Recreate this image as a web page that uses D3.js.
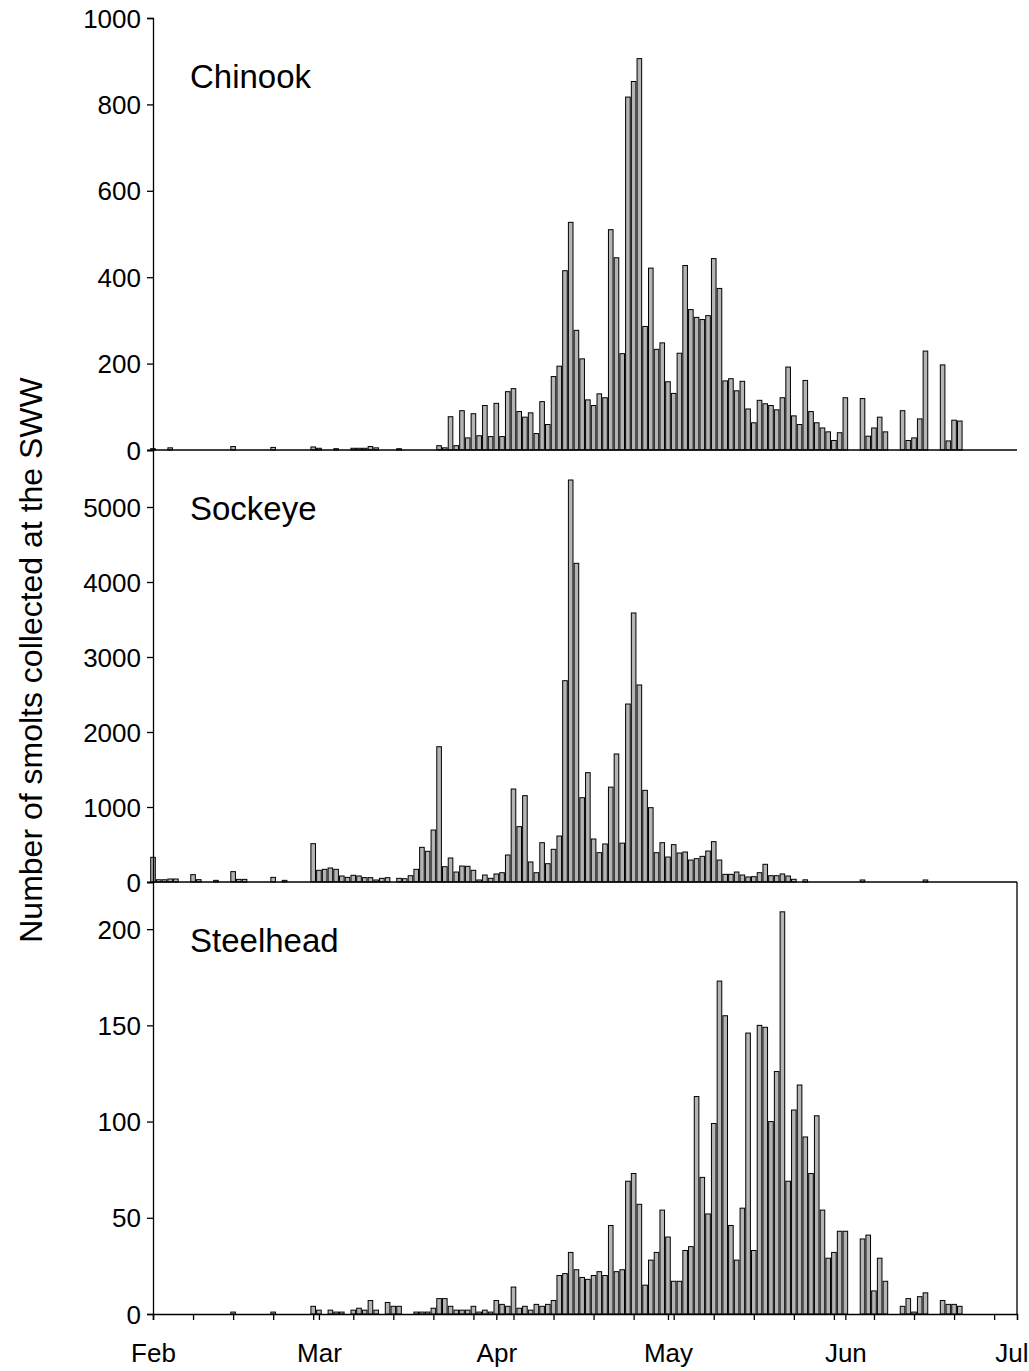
<!DOCTYPE html>
<html>
<head>
<meta charset="utf-8">
<script src="https://cdn.jsdelivr.net/npm/d3@7"></script>
<style>
  body { margin: 0; background: #fff; }
  text { font-family: Arial, "Liberation Sans", sans-serif; fill: #000; }
</style>
</head>
<body>
<div id="chart"></div>
<script>
// daily counts from Feb 1 (2004, leap year), one value per day
var chinook = [3,0,0,5,0,0,0,0,0,0,
  0,0,0,0,8,0,0,0,0,0,
  0,6,0,0,0,0,0,0,7,4,
  0,0,3,0,0,4,4,4,8,5,
  0,0,0,3,0,0,0,0,0,0,
  10,5,77,10,91,28,84,33,103,31,
  108,31,135,142,89,76,86,38,112,59,
  170,194,415,527,277,211,116,103,130,121,
  510,445,223,817,853,906,286,421,233,248,
  158,131,224,427,325,307,302,311,443,374,
  160,165,137,159,95,63,115,107,103,93,
  121,192,79,59,161,89,63,51,42,22,
  40,121,0,0,119,32,51,76,42,0,
  0,91,22,28,72,229,0,0,197,21,
  69,67];

var sockeye = [329,30,30,40,40,0,0,98,31,0,
  0,22,0,0,138,35,35,0,0,0,
  0,62,0,22,0,0,0,0,511,156,
  169,187,169,80,62,89,80,58,58,27,
  49,58,0,49,44,84,169,462,409,693,
  1804,204,320,133,213,209,156,27,93,49,
  107,124,360,1240,738,1151,267,124,524,244,
  436,613,2684,5360,4249,1124,1458,573,391,507,
  1265,1707,518,2373,3587,2627,1222,991,391,524,
  333,498,387,400,293,311,342,413,538,293,
  102,102,133,93,67,71,124,236,84,84,
  107,80,36,0,29,0,0,0,0,0,
  0,0,0,0,27,0,0,0,0,0,
  0,0,0,0,0,27,0,0,0,0,
  0,0];

var steelhead = [0,0,0,0,0,0,0,0,0,0,
  0,0,0,0,1,0,0,0,0,0,
  0,1,0,0,0,0,0,0,4,2,
  0,2,1,1,0,2,3,2,7,2,
  0,6,4,4,0,0,1,1,1,3,
  8,8,4,2,2,2,4,1,2,1,
  7,5,4,14,3,4,2,5,4,5,
  7,20,21,32,23,19,18,20,22,20,
  46,22,23,69,73,57,15,28,32,54,
  40,17,17,33,35,113,71,52,99,173,
  155,46,28,55,146,33,150,149,100,126,
  209,69,106,119,92,73,103,54,29,32,
  43,43,0,0,39,41,12,29,17,0,
  0,4,8,1,9,11,0,0,7,5,
  5,4];

var species = ["Chinook", "Sockeye", "Steelhead"];
var chinookTicks = [0, 200, 400, 600, 800, 1000];
var sockeyeTicks = [0, 1000, 2000, 3000, 4000, 5000];
var steelheadTicks = [0, 50, 100, 150, 200];
var monthLabels = ["Feb", "Mar", "Apr", "May", "Jun", "Jul"];

var W = 1029, H = 1371;
var left = 153, right = 1017;
var panelH = 432, top0 = 18;

var start = new Date(Date.UTC(2004, 1, 1));
var end = new Date(Date.UTC(2004, 6, 1));

var svg = d3.select("#chart").append("svg")
  .attr("width", W)
  .attr("height", H);

var x = d3.scaleUtc().domain([start, end]).range([left, right]);

var panels = [
  { name: species[0], values: chinook, max: 1000, ticks: chinookTicks },
  { name: species[1], values: sockeye, max: 5760, ticks: sockeyeTicks },
  { name: species[2], values: steelhead, max: 224.5, ticks: steelheadTicks }
];

var barW = 4.6;

panels.forEach(function (p, k) {
  var y0 = top0 + k * panelH;
  var y = d3.scaleLinear().domain([0, p.max]).range([y0 + panelH, y0]);

  var g = svg.append("g");

  g.selectAll("rect")
    .data(p.values.map(function (v, i) { return { date: d3.utcDay.offset(start, i), v: v }; })
      .filter(function (d) { return d.v > 0; }))
    .enter()
    .append("rect")
    .attr("x", function (d) { return x(d.date) - barW / 2; })
    .attr("y", function (d) { return y(d.v); })
    .attr("width", barW)
    .attr("height", function (d) { return y(0) - y(d.v); })
    .attr("fill", "#b4b4b4")
    .attr("stroke", "#000")
    .attr("stroke-width", 1);

  // y axis
  var yAxis = d3.axisLeft(y).tickValues(p.ticks).tickSize(6).tickPadding(6)
    .tickFormat(d3.format("d"));
  var ya = svg.append("g")
    .attr("transform", "translate(" + left + ",0)")
    .call(yAxis);
  ya.select(".domain").attr("stroke-width", 1.3);
  ya.selectAll(".tick line").attr("stroke-width", 1.3);
  ya.selectAll("text").style("font-size", "26px").attr("dy", "0.35em");

  // x axis line at zero
  if (k < 2) {
    svg.append("line")
      .attr("x1", left).attr("x2", right)
      .attr("y1", y(0)).attr("y2", y(0))
      .attr("stroke", "#000").attr("stroke-width", 1.3);
  }

  svg.append("text")
    .attr("x", 190)
    .attr("y", y0 + 70)
    .style("font-size", "33px")
    .text(p.name);
});

// bottom x axis with weekly and month ticks
var bottom = top0 + 3 * panelH;
var weekly = d3.range(0, 151, 7).map(function (i) { return d3.utcDay.offset(start, i); });
var months = d3.utcMonth.range(start, d3.utcDay.offset(end, 1));

var xa = svg.append("g")
  .attr("transform", "translate(0," + bottom + ")")
  .call(d3.axisBottom(x).tickValues(weekly).tickSize(6).tickFormat(""));
xa.select(".domain").attr("stroke-width", 1.3);
xa.selectAll(".tick line").attr("stroke-width", 1.3);

var xm = svg.append("g")
  .attr("transform", "translate(0," + bottom + ")")
  .call(d3.axisBottom(x).tickValues(months).tickSize(6).tickPadding(24)
    .tickFormat(function (d, i) { return monthLabels[i]; }));
xm.select(".domain").remove();
xm.selectAll(".tick line").attr("stroke-width", 1.3);
xm.selectAll("text").style("font-size", "26px");
// last label sits at the window edge
xm.selectAll("text").filter(function (d, i) { return i === monthLabels.length - 1; })
  .attr("text-anchor", "end").attr("x", 11);

// right edge
svg.append("line")
  .attr("x1", right).attr("x2", right)
  .attr("y1", top0 + 2 * panelH).attr("y2", bottom)
  .attr("stroke", "#000").attr("stroke-width", 1.3);

svg.append("text")
  .attr("transform", "translate(42," + 660 + ") rotate(-90)")
  .attr("text-anchor", "middle")
  .style("font-size", "32px")
  .text("Number of smolts collected at the SWW");
</script>
</body>
</html>
